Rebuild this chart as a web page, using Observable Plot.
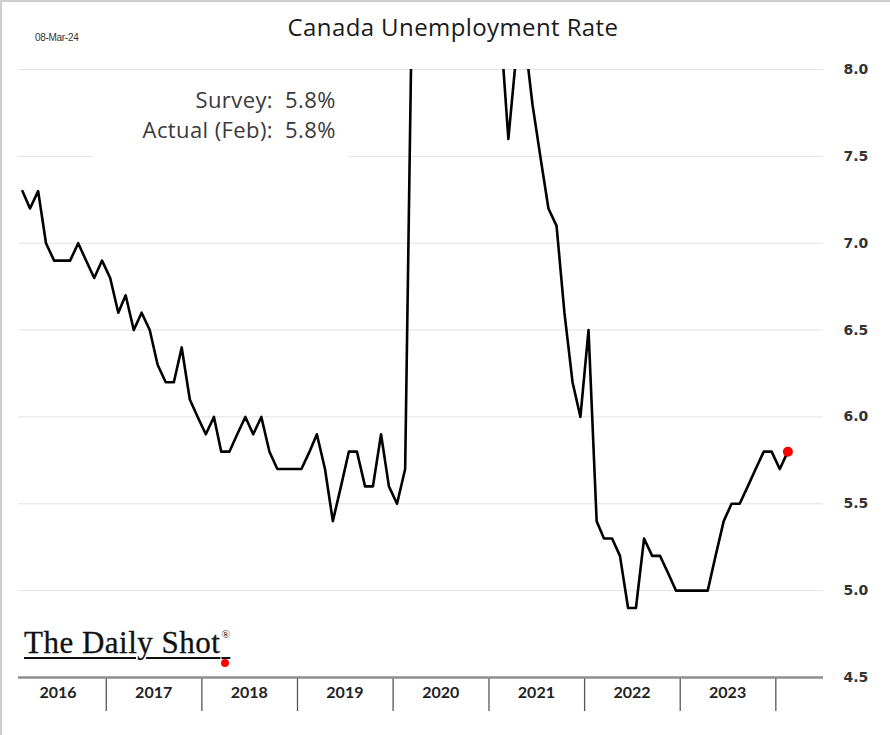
<!DOCTYPE html>
<html>
<head>
<meta charset="utf-8">
<script src="https://cdn.jsdelivr.net/npm/d3@7"></script>
<script src="https://cdn.jsdelivr.net/npm/@observablehq/plot@0.6"></script>
<style>
  html, body { margin: 0; padding: 0; background: #fff; }
  #frame { position: relative; width: 890px; height: 735px; overflow: hidden; background: #fff; }
  #chart { position: absolute; left: 0; top: 0; }
  .bt { position: absolute; left: 0; top: 0; width: 890px; height: 2px; background: #cfcfcf; }
  .bl { position: absolute; left: 0; top: 0; width: 2px; height: 735px; background: #cfcfcf; }
  #title { position: absolute; left: 8px; top: 10px; width: 890px; text-align: center;
           font-family: "Open Sans", sans-serif; font-size: 24px; letter-spacing: 0.4px; color: #1a1a1a; }
  #date { position: absolute; left: 35px; top: 32px; font-family: "Liberation Sans", Arial, sans-serif;
          font-size: 10px; color: #333; letter-spacing: -0.3px; }
  #note { position: absolute; left: 93px; top: 80px; width: 255px; height: 84px; background: #fff; }
  .nrow { position: absolute; font-family: "Open Sans", sans-serif; font-size: 22px; letter-spacing: 0.4px; color: #3a3a3a; white-space: nowrap; }
  .nlab { text-align: right; width: 200px; }
  #logo { position: absolute; left: 24px; top: 625px; font-family: "Liberation Serif", "Times New Roman", serif;
          font-size: 31px; color: #111; letter-spacing: 0.5px; white-space: nowrap; -webkit-text-stroke: 0.3px #111;
          text-decoration: underline; text-decoration-thickness: 2px; text-underline-offset: 4px; }
  #logo sup { font-size: 11px; text-decoration: none; vertical-align: 15px; margin-left: 1px; -webkit-text-stroke: 0; }
  #reddot { position: absolute; left: 221px; top: 659px; width: 8px; height: 8px; border-radius: 50%; background: #ff0000; }
</style>
</head>
<body>
<div id="frame">
  <div id="chart"></div>
  <div class="bt"></div>
  <div class="bl"></div>
  <div id="title">Canada Unemployment Rate</div>
  <div id="date">08-Mar-24</div>
  <div id="note"></div>
  <div class="nrow nlab" style="left:73px; top:84px;">Survey:</div>
  <div class="nrow" style="left:285px; top:84px;">5.8%</div>
  <div class="nrow nlab" style="left:73px; top:114px;">Actual (Feb):</div>
  <div class="nrow" style="left:285px; top:114px;">5.8%</div>
  <div id="logo">The Daily Shot<sup>®</sup></div>
  <div id="reddot"></div>
</div>
<script>
// Monthly Canada unemployment rate (%), Feb 2016 through Feb 2024
const firstMonth = [2016, 1]; // year, zero-based month (Feb 2016)
const rate2016 = [7.3, 7.2, 7.3, 7.0, 6.9, 6.9, 6.9, 7.0, 6.9, 6.8, 6.9]; // Feb-Dec
const rate2017 = [6.8, 6.6, 6.7, 6.5, 6.6, 6.5, 6.3, 6.2, 6.2, 6.4, 6.1, 6.0];
const rate2018 = [5.9, 6.0, 5.8, 5.8, 5.9, 6.0, 5.9, 6.0, 5.8, 5.7, 5.7, 5.7];
const rate2019 = [5.7, 5.8, 5.9, 5.7, 5.4, 5.6, 5.8, 5.8, 5.6, 5.6, 5.9, 5.6];
const rate2020 = [5.5, 5.7, 8.7, 13.2, 14.1, 12.5, 10.9, 10.1, 9.0, 8.9, 8.5, 8.8];
const rate2021 = [9.4, 8.2, 7.6, 8.1, 8.2, 7.8, 7.5, 7.2, 7.1, 6.6, 6.2, 6.0];
const rate2022 = [6.5, 5.4, 5.3, 5.3, 5.2, 4.9, 4.9, 5.3, 5.2, 5.2, 5.1, 5.0];
const rate2023 = [5.0, 5.0, 5.0, 5.0, 5.2, 5.4, 5.5, 5.5, 5.6, 5.7, 5.8, 5.8];
const rate2024 = [5.7, 5.8]; // Jan-Feb

const yTicks = [4.5, 5.0, 5.5, 6.0, 6.5, 7.0, 7.5, 8.0];
const yearLabels = [2016, 2017, 2018, 2019, 2020, 2021, 2022, 2023];
const yearBreaks = [2017, 2018, 2019, 2020, 2021, 2022, 2023, 2024];

const values = [].concat(rate2016, rate2017, rate2018, rate2019, rate2020, rate2021, rate2022, rate2023, rate2024);
const data = values.map((v, i) => ({
  date: new Date(Date.UTC(firstMonth[0], firstMonth[1] + i, 16)),
  value: v
}));

const plot = Plot.plot({
  width: 890,
  height: 735,
  marginLeft: 18,
  marginRight: 67,
  marginTop: 69,
  marginBottom: 58,
  style: { background: "transparent", color: "#222" },
  x: { type: "utc", domain: [new Date(Date.UTC(2016, 1, 1)), new Date(Date.UTC(2024, 6, 1))] },
  y: { domain: [4.5, 8.0] },
  marks: [
    Plot.ruleY(yTicks.filter(d => d > 4.5), { stroke: "#e2e2e2", strokeWidth: 1 }),
    Plot.axisY(yTicks, {
      anchor: "right", tickSize: 0, tickPadding: 20, label: null,
      tickFormat: d => d.toFixed(1),
      fontSize: 14, fontWeight: "bold", fontFamily: "DejaVu Sans", fill: "#333"
    }),
    Plot.axisX(yearBreaks.map(y => new Date(Date.UTC(y, 0, 1))), {
      anchor: "bottom", tickSize: 34, tickFormat: () => "", label: null, stroke: "#555", strokeWidth: 1.3
    }),
    Plot.axisX(yearLabels.map(y => new Date(Date.UTC(y, 6, 1))), {
      anchor: "bottom", tickSize: 0, tickPadding: 9, label: null,
      tickFormat: d => String(d.getUTCFullYear()),
      fontSize: 16, fontWeight: "bold", fontFamily: "Lato", fill: "#222"
    }),
    Plot.ruleY([4.5], { stroke: "#8f8f8f", strokeWidth: 2.5 }),
    Plot.line(data, { x: "date", y: "value", stroke: "#000", strokeWidth: 2.6, clip: true }),
    Plot.dot(data.slice(-1), { x: "date", y: "value", r: 5, fill: "#ff0000", stroke: "none" })
  ]
});
document.getElementById("chart").appendChild(plot);
</script>
</body>
</html>
